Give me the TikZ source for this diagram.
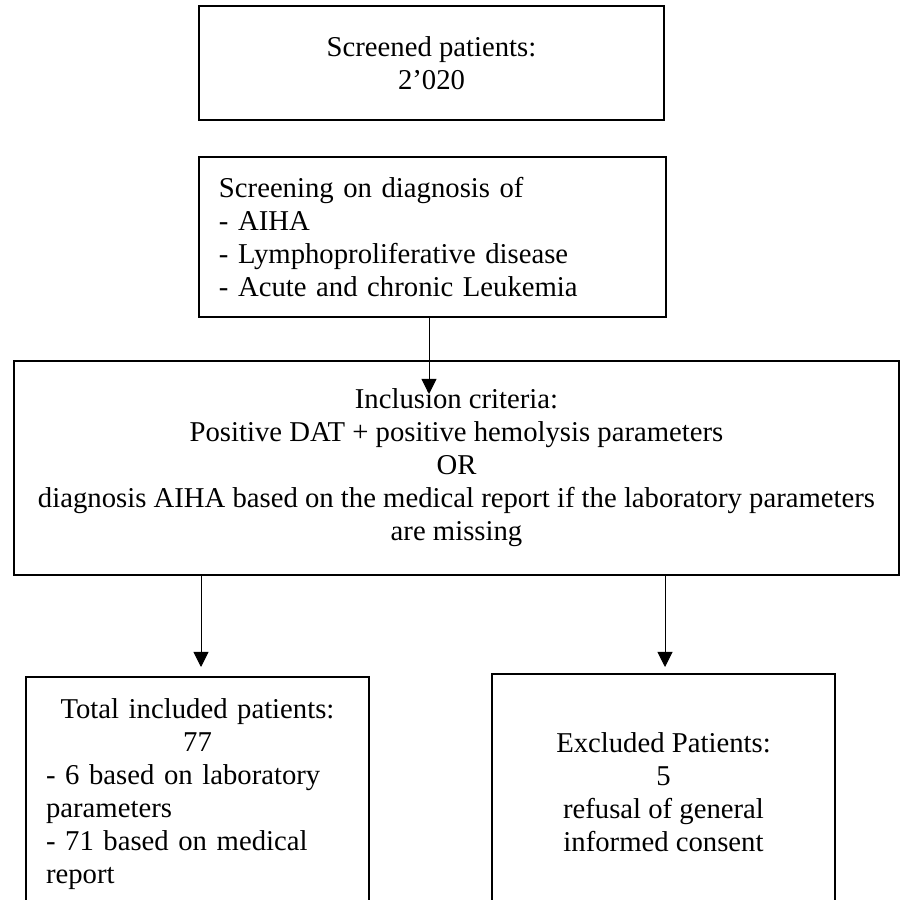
\documentclass[tikz,border=0pt]{standalone}
\usepackage{fontspec}
\setmainfont{Liberation Serif}
\usetikzlibrary{arrows.meta}

\begin{document}
\begin{tikzpicture}[x=0.418pt,y=-0.418pt,
        box/.style={draw,line width=1pt,inner sep=0pt,font=\fontsize{12}{13.8}\selectfont},
        arr/.style={line width=0.4pt,-{Triangle[length=6.3pt,width=6.3pt]}}]
        \useasboundingbox (0,0) rectangle (901,900);
        \clip (0,0) rectangle (901,900);

        \node[box,align=center,minimum width=194.4pt,minimum height=47.7pt] (screened) at (431.5,63) {Screened patients:\\2'020};

        \node[box,align=left,text width=178.5pt,inner xsep=8.4pt,minimum height=66.9pt] (diagnosis) at (432.5,237)
            {Screening on diagnosis of\\- AIHA\\- Lymphoproliferative disease\\- Acute and chronic Leukemia};

        \node[box,align=center,minimum width=369.9pt,minimum height=89.5pt] (criteria) at (456.5,468)
            {Inclusion criteria:\\Positive DAT + positive hemolysis parameters\\OR\\diagnosis AIHA based on the medical report if the laboratory parameters\\are missing};

        \node[box,align=left,text width=126.6pt,inner xsep=8.4pt,minimum height=98.2pt] (included) at (197.5,794.5)
            {\makebox[\linewidth]{Total included patients:}\\\makebox[\linewidth]{77}\\- 6 based on laboratory\\parameters\\- 71 based on medical\\report};

        \node[box,align=center,minimum width=143.4pt,minimum height=99.1pt] (excluded) at (663.5,792.5)
            {Excluded Patients:\\5\\refusal of general\\informed consent};

        \coordinate (tipA) at (429,394);
        \coordinate (tipB) at (201,667);
        \coordinate (tipC) at (665,667);

        \draw[arr] (diagnosis.south -| tipA) -- (tipA);
        \draw[arr] (criteria.south -| tipB) -- (tipB);
        \draw[arr] (criteria.south -| tipC) -- (tipC);
    \end{tikzpicture}
\end{document}
